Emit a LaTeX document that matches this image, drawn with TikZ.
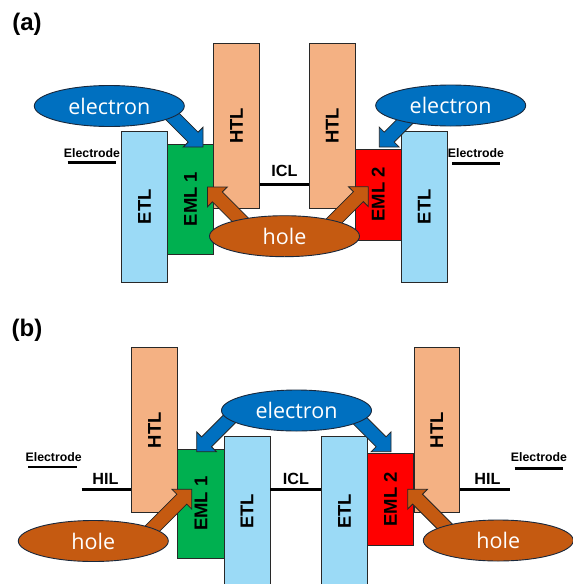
\documentclass[tikz,border=0pt]{standalone}
\usepackage{fontspec}
\setmainfont{Liberation Sans}
\newfontfamily\ofont{Open Sans}
\usetikzlibrary{calc,fit,shapes.geometric}
\definecolor{htlc}{RGB}{244,177,131}
\definecolor{etlc}{RGB}{155,218,246}
\definecolor{emlg}{RGB}{0,176,80}
\definecolor{emlr}{RGB}{255,0,0}
\definecolor{elc}{RGB}{0,112,192}
\definecolor{hoc}{RGB}{197,90,17}
\definecolor{edgec}{RGB}{40,40,40}
\definecolor{elledge}{RGB}{25,40,60}
\pgfdeclarelayer{boxes}
\pgfdeclarelayer{arrows}
\pgfsetlayers{boxes,arrows,main}
\tikzset{
  layer/.style={draw=edgec, line width=0.8pt, inner sep=0pt},
  htl/.style={layer, fill=htlc},
  etl/.style={layer, fill=etlc},
  emlA/.style={layer, fill=emlg},
  emlB/.style={layer, fill=emlr},
  lab/.style={rotate=90, inner sep=0pt, font=\bfseries\fontsize{18.5}{18.5}\selectfont},
  blob/.style={ellipse, draw=elledge, line width=0.9pt, inner sep=0pt, minimum width=150pt, minimum height=41pt},
  elec/.style={blob, fill=elc},
  hole/.style={blob, fill=hoc},
  blobtext/.style={text=white, font=\ofont\fontsize{21.5}{21.5}\selectfont, inner sep=0pt},
  lvl/.style={line width=2.4pt, black},
  small/.style={font=\bfseries\fontsize{12.3}{12.3}\selectfont, inner sep=0pt},
  mid/.style={font=\bfseries\fontsize{16.2}{16.2}\selectfont, inner sep=0pt},
  panel/.style={font=\bfseries\fontsize{24}{24}\selectfont, inner sep=0pt},
  earrow/.style={fill=elc, draw=black!85, line width=0.8pt, line join=miter},
  harrow/.style={fill=hoc, draw=black!85, line width=0.8pt, line join=miter}
}
\newcommand{\blockarrow}[3]{%
  \coordinate (bAc) at ($(#3)!14pt!(#2)$);
  \path[#1] ($(#2)!7pt!90:(#3)$) -- ($(bAc)!7pt!90:(#3)$) -- ($(bAc)!14pt!90:(#3)$) -- (#3)
    -- ($(bAc)!14pt!-90:(#3)$) -- ($(bAc)!7pt!-90:(#3)$) -- ($(#2)!7pt!-90:(#3)$) -- cycle;
}
\begin{document}
\begin{tikzpicture}[x=1pt,y=-1pt]
\clip (0,0) rectangle (573,584);
\begin{pgfonlayer}{boxes}
\fill[white] (0,0) rectangle (573,584);
\end{pgfonlayer}

% ---------- panel (a) ----------
\node[panel] (la) at (27,24) {(a)};
\begin{pgfonlayer}{boxes}
\node[etl, fit={(121.7,131) (167.3,282.7)}] (etlA1) {};
\node[emlA, fit={(167.3,144) (213.7,254)}] (emlA1) {};
\node[htl, fit={(213.7,43.3) (259.3,208.3)}] (htlA1) {};
\node[htl, fit={(309.5,43.3) (355.1,208.3)}] (htlA2) {};
\node[emlB, fit={(355.1,149) (401.3,240)}] (emlA2) {};
\node[etl, fit={(401.3,131) (447.3,282.7)}] (etlA2) {};
\node[lab] at (etlA1) {ETL};
\node[lab] at (emlA1) {EML 1};
\node[lab] at (htlA1) {HTL};
\node[lab] at (htlA2) {HTL};
\node[lab] at (emlA2) {EML 2};
\node[lab] at (etlA2) {ETL};
\end{pgfonlayer}
\coordinate (elA1a) at (67.7,162.3);
\coordinate (elA1b) at (116,162.3);
\draw[lvl] (elA1a) -- (elA1b);
\node[small] (telA1) at (92,152.8) {Electrode};
\coordinate (elA2a) at (452,163.5);
\coordinate (elA2b) at (500.3,163.5);
\draw[lvl] (elA2a) -- (elA2b);
\node[small] (telA2) at (476,153) {Electrode};
\draw[lvl] (htlA1.east |- 0,184.3) -- (htlA2.west |- 0,184.3);
\node[mid] (iclA) at (284.5,170.5) {ICL};

\node[elec] (eA1) at (109.3,106) {};
\node[blobtext] at (eA1) {electron};
\node[elec] (eA2) at (450.7,105.5) {};
\node[blobtext] at (eA2) {electron};
\node[hole] (hA) at (284.5,236.2) {};
\node[blobtext] at (hA) {hole};

\coordinate (a1s) at (158,102);     \coordinate (a1t) at (203,147);
\coordinate (a2s) at (252.5,232);   \coordinate (a2t) at (207.5,187);
\coordinate (a3s) at (323.3,231.7); \coordinate (a3t) at (368.3,186.7);
\coordinate (a4s) at (424.3,102);   \coordinate (a4t) at (379.3,147);
\begin{pgfonlayer}{arrows}
\blockarrow{earrow}{a1s}{a1t}
\blockarrow{harrow}{a2s}{a2t}
\blockarrow{harrow}{a3s}{a3t}
\blockarrow{earrow}{a4s}{a4t}
\end{pgfonlayer}

% ---------- panel (b) ----------
\node[panel] (lb) at (27,330) {(b)};
\begin{pgfonlayer}{boxes}
\node[htl, fit={(131.7,347.7) (177.3,512.7)}] (htlB1) {};
\node[emlA, fit={(177.8,449) (224,558.3)}] (emlB1) {};
\node[etl, fit={(224,436) (270,587)}] (etlB1) {};
\node[etl, fit={(321.7,436) (367.4,587)}] (etlB2) {};
\node[emlB, fit={(367.4,453.3) (413.6,545)}] (emlB2) {};
\node[htl, fit={(413.9,347.7) (459.7,512.7)}] (htlB2) {};
\node[lab] at (htlB1) {HTL};
\node[lab] at (emlB1) {EML 1};
\node[lab] at (etlB1) {ETL};
\node[lab] at (etlB2) {ETL};
\node[lab] at (emlB2) {EML 2};
\node[lab] at (htlB2) {HTL};
\end{pgfonlayer}
\coordinate (elB1a) at (28.3,466.7);
\coordinate (elB1b) at (76.7,466.7);
\draw[lvl] (elB1a) -- (elB1b);
\node[small] (telB1) at (53.7,457.5) {Electrode};
\coordinate (hilB1) at (81.7,489.3);
\draw[lvl] (hilB1) -- (htlB1.west |- hilB1);
\node[mid] (thilB1) at (105.5,479.3) {HIL};
\draw[lvl] (etlB1.east |- 0,489.3) -- (etlB2.west |- 0,489.3);
\node[mid] (iclB) at (296,479.3) {ICL};
\coordinate (hilB2) at (510.3,489.3);
\draw[lvl] (htlB2.east |- hilB2) -- (hilB2);
\node[mid] (thilB2) at (487.5,479.3) {HIL};
\coordinate (elB2a) at (514.7,468.5);
\coordinate (elB2b) at (563,468.5);
\draw[lvl] (elB2a) -- (elB2b);
\node[small] (telB2) at (539,457) {Electrode};

\node[elec] (eB) at (296.5,410.5) {};
\node[blobtext] at (eB) {electron};
\node[hole] (hB1) at (93.3,541) {};
\node[blobtext] at (hB1) {hole};
\node[hole] (hB2) at (498.3,540.5) {};
\node[blobtext] at (hB2) {hole};

\coordinate (b1s) at (241.7,406.7); \coordinate (b1t) at (196.7,451.7);
\coordinate (b2s) at (346,406.7);   \coordinate (b2t) at (391,451.7);
\coordinate (b3s) at (146.7,534.3); \coordinate (b3t) at (191.7,489.3);
\coordinate (b4s) at (452.7,534.3); \coordinate (b4t) at (407.7,489.3);
\begin{pgfonlayer}{arrows}
\blockarrow{earrow}{b1s}{b1t}
\blockarrow{earrow}{b2s}{b2t}
\blockarrow{harrow}{b3s}{b3t}
\blockarrow{harrow}{b4s}{b4t}
\end{pgfonlayer}
\end{tikzpicture}
\end{document}
